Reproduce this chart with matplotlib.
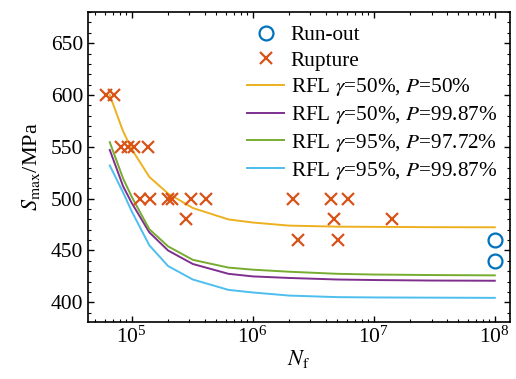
import numpy as np
import matplotlib
matplotlib.use("Agg")
import matplotlib.pyplot as plt
from matplotlib.ticker import LogLocator, MultipleLocator, NullFormatter

plt.rcParams["font.family"] = ["Liberation Serif", "DejaVu Serif"]
plt.rcParams["mathtext.fontset"] = "stix"
plt.rcParams["font.size"] = 12

# Test results
rupture_N = [6.1e4, 7.2e4, 8.2e4, 9.3e4, 1.04e5, 1.37e5,
             1.17e5, 1.42e5, 2.0e5, 2.14e5, 3.11e5, 4.14e5, 2.83e5,
             2.15e6, 4.4e6, 6.1e6, 4.7e6, 1.42e7, 2.37e6, 5.07e6]
rupture_S = [600, 600, 550, 550, 550, 550,
             500, 500, 500, 500, 500, 500, 480,
             500, 500, 500, 480, 480, 460, 460]
runout_N = [1e8, 1e8]
runout_S = [460, 440]

# Random fatigue limit model curves
curve_N = [6.6e4, 8.5e4, 1e5, 1.4e5, 2e5, 3.2e5, 6.3e5, 1e6, 2e6, 5e6, 1e7, 3e7, 1e8]
rfl_50_50 = [600, 565, 548, 521, 505, 491, 480, 477, 474, 473, 472.8, 472.5, 472.4]
rfl_50_9987 = [547, 512, 496, 467.5, 450, 437, 427.5, 425, 423.5, 422, 421.5, 421, 420.8]
rfl_95_9772 = [554.5, 519.5, 502, 470.5, 454, 441, 433.5, 431.5, 429.5, 427.5, 426.8, 426.3, 426]
rfl_95_9987 = [532, 506, 488, 455, 435, 422, 412, 409.5, 406.5, 405, 404.7, 404.5, 404.3]

labels = ["Run-out", "Rupture",
          r"RFL $\gamma$=50%, $P$=50%",
          r"RFL $\gamma$=50%, $P$=99.87%",
          r"RFL $\gamma$=95%, $P$=97.72%",
          r"RFL $\gamma$=95%, $P$=99.87%"]

fig = plt.figure(figsize=(5.16, 3.79), dpi=100)
ax = fig.add_axes([0.1705, 0.1504, 0.8175, 0.8176])

ax.plot(runout_N, runout_S, linestyle="none", marker="o", markersize=10,
        markerfacecolor="none", markeredgecolor="#0072BD", markeredgewidth=1.6,
        label=labels[0], zorder=4)
ax.plot(rupture_N, rupture_S, linestyle="none", marker="x", markersize=8,
        color="#D95319", markeredgewidth=1.6, label=labels[1], zorder=4)
ax.plot(curve_N, rfl_50_50, color="#EDB120", lw=1.4, label=labels[2])
ax.plot(curve_N, rfl_50_9987, color="#7E2F8E", lw=1.4, label=labels[3])
ax.plot(curve_N, rfl_95_9772, color="#77AC30", lw=1.4, label=labels[4])
ax.plot(curve_N, rfl_95_9987, color="#4DBEEE", lw=1.4, label=labels[5])

ax.set_xscale("log")
ax.set_xlim(4.36e4, 1.33e8)
ax.set_ylim(381, 680)
ax.set_yticks([400, 450, 500, 550, 600, 650])
ax.yaxis.set_minor_locator(MultipleLocator(10))
ax.xaxis.set_major_locator(LogLocator(base=10, numticks=10))
ax.xaxis.set_minor_locator(LogLocator(base=10, subs=np.arange(2, 10), numticks=10))
ax.xaxis.set_minor_formatter(NullFormatter())

ax.tick_params(which="both", direction="in", top=True, right=True, labelsize=15.5)
ax.tick_params(which="major", length=4, width=1)
ax.tick_params(which="minor", length=2.5, width=0.8)
for s in ax.spines.values():
    s.set_linewidth(1.2)

ax.set_xlabel(r"$N_\mathrm{f}$", fontsize=16, labelpad=0)
ax.set_ylabel(r"$S_\mathrm{max}$/MPa", fontsize=16, labelpad=6)

ax.legend(loc="upper left", bbox_to_anchor=(0.377, 0.958), frameon=False,
          fontsize=15.3, handlelength=1.75, handletextpad=0.3, labelspacing=0.27,
          borderpad=0, borderaxespad=0)

fig.savefig("out.png", dpi=100)
